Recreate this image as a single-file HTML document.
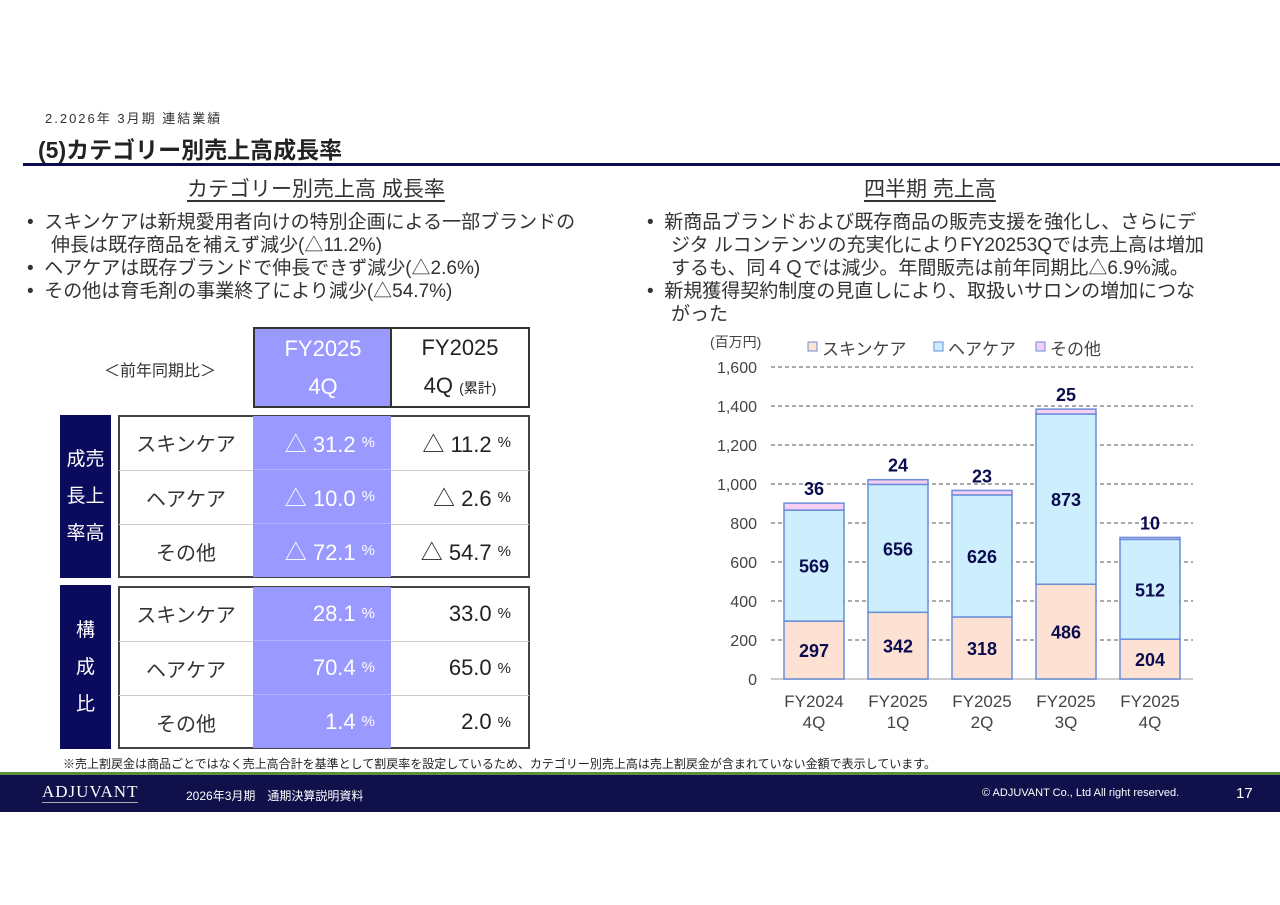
<!DOCTYPE html>
<html><head><meta charset="utf-8">
<style>
body{margin:0;width:1280px;height:905px;background:#fff;position:relative;overflow:hidden;font-family:"Liberation Sans","Noto Sans CJK JP",sans-serif;color:#333}
.a{position:absolute;white-space:nowrap}
.cell{position:absolute;box-sizing:border-box;display:flex;align-items:center;font-size:20px}
.bul{font-size:19px;line-height:23px;color:#333}
</style></head><body>
<div class="a" style="left:45px;top:108px;font-size:13px;letter-spacing:2px;color:#333">2.2026年 3月期 連結業績</div>
<div class="a" style="left:38px;top:131px;font-size:23px;font-weight:bold;color:#222">(5)カテゴリー別売上高成長率</div>
<div class="a" style="left:23px;top:163px;width:1257px;height:3px;background:#0b0b50"></div>

<div class="a" style="left:187px;top:173px;font-size:21px;text-decoration:underline;text-underline-offset:4px">カテゴリー別売上高 成長率</div>
<div class="a bul" style="left:27px;top:211px">
<div>•&nbsp; スキンケアは新規愛用者向けの特別企画による一部ブランドの</div>
<div style="padding-left:24px">伸長は既存商品を補えず減少(△11.2%)</div>
<div>•&nbsp; ヘアケアは既存ブランドで伸長できず減少(△2.6%)</div>
<div>•&nbsp; その他は育毛剤の事業終了により減少(△54.7%)</div>
</div>

<div class="a" style="left:864px;top:173px;font-size:21px;text-decoration:underline;text-underline-offset:4px">四半期 売上高</div>
<div class="a bul" style="left:647px;top:211px">
<div>•&nbsp; 新商品ブランドおよび既存商品の販売支援を強化し、さらにデ</div>
<div style="padding-left:24px">ジタ ルコンテンツの充実化によりFY20253Qでは売上高は増加</div>
<div style="padding-left:24px">するも、同４Ｑでは減少。年間販売は前年同期比△6.9%減。</div>
<div>•&nbsp; 新規獲得契約制度の見直しにより、取扱いサロンの増加につな</div>
<div style="padding-left:24px">がった</div>
</div>

<!-- table -->
<div class="a" style="left:104px;top:357px;font-size:16px">＜前年同期比＞</div>
<div class="cell" style="left:253px;top:327px;width:138px;height:81px;background:#9999ff;color:#fff;border:2px solid #333;border-right:none;flex-direction:column;justify-content:center;align-items:center;font-size:22px;line-height:38px"><span>FY2025</span><span>4Q</span></div>
<div class="cell" style="left:390px;top:327px;width:140px;height:81px;border:2px solid #333;flex-direction:column;justify-content:center;align-items:center;font-size:22px;line-height:38px;color:#222"><span>FY2025</span><span>4Q <span style="font-size:14px">(累計)</span></span></div>

<div class="cell" style="left:60px;top:415px;width:51px;height:163px;background:#0b0b5e;color:#fff;font-size:19px;line-height:37px;justify-content:center;text-align:center">成売<br>長上<br>率高</div>
<div class="cell" style="left:60px;top:585px;width:51px;height:164px;background:#0b0b5e;color:#fff;font-size:19px;line-height:37px;justify-content:center;text-align:center">構<br>成<br>比</div>

<div id="tbl"></div>

<svg class="a" id="chart" style="left:0;top:0" width="1280" height="770"></svg>

<div class="a" style="left:63px;top:755px;font-size:12px;color:#222">※売上割戻金は商品ごとではなく売上高合計を基準として割戻率を設定しているため、カテゴリー別売上高は売上割戻金が含まれていない金額で表示しています。</div>
<div class="a" style="left:0;top:772px;width:1280px;height:3px;background:#5a8f3c"></div>
<div class="a" style="left:0;top:775px;width:1280px;height:37px;background:#10104a"></div>
<div class="a" style="left:42px;top:782px;font-family:'Liberation Serif',serif;font-size:17px;color:#fff;letter-spacing:1px;border-bottom:1px solid #aaa">ADJUVANT</div>
<div class="a" style="left:186px;top:787px;font-size:12px;color:#fff">2026年3月期　通期決算説明資料</div>
<div class="a" style="left:982px;top:787px;font-size:11px;color:#fff">© ADJUVANT Co., Ltd All right reserved.</div>
<div class="a" style="left:1236px;top:785px;font-size:15px;color:#fff">17</div>

<script>
// table
const rowLabels=['スキンケア','ヘアケア','その他'];
const growthQ=['△ 31.2','△ 10.0','△ 72.1'];
const growthCum=['△ 11.2','△ 2.6','△ 54.7'];
const compQ=['28.1','70.4','1.4'];
const compCum=['33.0','65.0','2.0'];
const tbl=document.getElementById('tbl');
function mk(l,t,w,h,st,html,name){const d=document.createElement('div');d.className='cell';d.style.cssText=`left:${l}px;top:${t}px;width:${w}px;height:${h}px;`+st;d.innerHTML=html;


tbl.appendChild(d);}
[[415,growthQ,growthCum,'growth'],[586,compQ,compCum,'composition']].forEach(([top,q,c,g])=>{
 mk(118,top,412,163,'border:2px solid #444;','',g+'-frame');
 for(let i=0;i<3;i++){const y=top+i*54;
  mk(119,y+1,134,53,'justify-content:center;color:#333;'+(i?'border-top:1px solid #ccc;':''),rowLabels[i],g+'-row-label');
  mk(253,y+(i?0:1),138,i?54:53,'background:#9999ff;color:#fff;justify-content:flex-end;padding-right:16px;font-size:22px;'+(i?'border-top:1px solid #b3b3ff;':''),q[i]+' <span style="font-size:15px;margin-left:6px">%</span>',g+'-quarter-value');
  mk(391,y+1,138,53,'justify-content:flex-end;padding-right:18px;color:#222;font-size:22px;'+(i?'border-top:1px solid #ccc;':''),c[i]+' <span style="font-size:15px;margin-left:6px">%</span>',g+'-cumulative-value');
 }
});
// chart
const cats=[['FY2024','4Q'],['FY2025','1Q'],['FY2025','2Q'],['FY2025','3Q'],['FY2025','4Q']];
const skin=[297,342,318,486,204];
const hair=[569,656,626,873,512];
const other=[36,24,23,25,10];
const ticks=[0,200,400,600,800,1000,1200,1400,1600];
const tickLabels=['0','200','400','600','800','1,000','1,200','1,400','1,600'];
const svg=document.getElementById('chart');const NS='http://www.w3.org/2000/svg';
const y=v=>679-v*(312/1600);const x=i=>814+i*84;const bw=60;
function el(t,a,txt,name){const e=document.createElementNS(NS,t);for(const k in a)e.setAttribute(k,a[k]);if(txt!=null)e.textContent=txt;


svg.appendChild(e);return e;}
ticks.forEach((t,i)=>{
 if(t>0)el('line',{x1:771,x2:1193,y1:y(t),y2:y(t),stroke:'#555','stroke-dasharray':'4,3','stroke-width':1},null,'gridline');
 el('text',{x:757,y:y(t)+6,'text-anchor':'end','font-size':16,fill:'#444'},tickLabels[i],'y-tick-label');
});
el('line',{x1:771,x2:1193,y1:679,y2:679,stroke:'#ccc','stroke-width':2},null,'x-axis');
el('text',{x:710,y:347,'font-size':14,fill:'#444'},'(百万円)','y-axis-unit');
[['#fde2d4',808,'スキンケア'],['#cdeefc',934,'ヘアケア'],['#f7cff5',1036,'その他']].forEach(([c,lx,t])=>{
 el('rect',{x:lx,y:342,width:9,height:9,fill:c,stroke:'#6a8ed8'},null,'legend-swatch');
 el('text',{x:lx+14,y:355,'font-size':17,fill:'#444'},t,'legend-entry');
});
cats.forEach((c,i)=>{
 const cx=x(i),l=cx-bw/2;const s=skin[i],h=hair[i],o=other[i];
 el('rect',{x:l,y:y(s),width:bw,height:y(0)-y(s),fill:'#fde2d4',stroke:'#6a8ed8','stroke-width':1.5},null,'bar-skincare');
 el('rect',{x:l,y:y(s+h),width:bw,height:y(s)-y(s+h),fill:'#cdeefc',stroke:'#6a8ed8','stroke-width':1.5},null,'bar-haircare');
 el('rect',{x:l,y:y(s+h+o),width:bw,height:y(s+h)-y(s+h+o),fill:'#f7cff5',stroke:'#6a8ed8','stroke-width':1.5},null,'bar-other');
 const lab={'font-size':18,'font-weight':'bold',fill:'#0b0b50','text-anchor':'middle'};
 el('text',Object.assign({x:cx,y:(y(0)+y(s))/2+7},lab),s,'value-skincare');
 el('text',Object.assign({x:cx,y:(y(s)+y(s+h))/2+7},lab),h,'value-haircare');
 el('text',Object.assign({x:cx,y:y(s+h+o)-8},lab),o,'value-other');
 el('text',{x:cx,y:707,'text-anchor':'middle','font-size':17,fill:'#444'},c[0],'x-tick-label');
 el('text',{x:cx,y:728,'text-anchor':'middle','font-size':17,fill:'#444'},c[1],'x-tick-label');
});
</script>
</body></html>
